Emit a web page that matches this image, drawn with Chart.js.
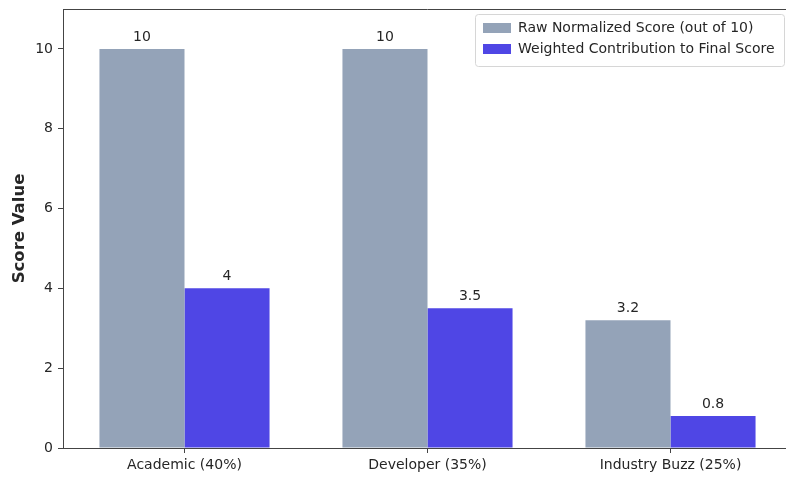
<!DOCTYPE html>
<html>
<head>
<meta charset="utf-8">
<script src="https://cdn.jsdelivr.net/npm/chart.js@4.4.1/dist/chart.umd.min.js"></script>
<style>
  html, body { margin: 0; padding: 0; background: #fff; overflow: hidden; }
</style>
</head>
<body>
<canvas id="plot-area" width="800" height="477"></canvas>
<script>
const categories = ["Academic (40%)", "Developer (35%)", "Industry Buzz (25%)"];
const rawScores = [10, 10, 3.2];
const weightedScores = [4, 3.5, 0.8];
const yTicks = [0, 2, 4, 6, 8, 10];

const FONT = "'DejaVu Sans', sans-serif";
const INK = "#262626";

// spines on top + legend frame, legend moved to the upper right inside the axes
const framePlugin = {
  id: "frame",
  afterLayout(chart) {
    const lg = chart.legend;
    const area = chart.chartArea;
    lg.left = area.right - 316;
    lg.top = area.top + 5;
    lg.right = lg.left + lg.width;
    lg.bottom = lg.top + lg.height;
  },
  beforeDraw(chart) {
    const ctx = chart.ctx;
    const area = chart.chartArea;
    const x = area.right - 317, y = area.top + 5, w = 309, h = 52;
    ctx.save();
    ctx.fillStyle = "rgba(255,255,255,0.8)";
    ctx.strokeStyle = "#d6d6d6";
    ctx.lineWidth = 1;
    ctx.beginPath();
    ctx.roundRect(x + 0.5, y + 0.5, w, h, 3);
    ctx.fill();
    ctx.stroke();
    ctx.restore();
  },
  afterDraw(chart) {
    const ctx = chart.ctx;
    const area = chart.chartArea;
    ctx.save();
    ctx.strokeStyle = "#444";
    ctx.lineWidth = 1;
    ctx.beginPath();
    ctx.moveTo(area.left, area.top + 0.5);
    ctx.lineTo(area.right, area.top + 0.5);
    ctx.stroke();
    ctx.restore();
  },
};

// value labels above each bar
const barLabels = {
  id: "barLabels",
  afterDatasetsDraw(chart) {
    const ctx = chart.ctx;
    ctx.save();
    ctx.font = "14px " + FONT;
    ctx.fillStyle = INK;
    ctx.textAlign = "center";
    ctx.textBaseline = "bottom";
    chart.data.datasets.forEach((ds, i) => {
      chart.getDatasetMeta(i).data.forEach((bar, j) => {
        ctx.fillText(String(ds.data[j]), bar.x, bar.y - 5);
      });
    });
    ctx.restore();
  },
};

const config = {
  type: "bar",
  data: {
    labels: categories,
    datasets: [
      {
        label: "Raw Normalized Score (out of 10)",
        data: rawScores,
        backgroundColor: "#94a3b8",
        borderWidth: 0,
      },
      {
        label: "Weighted Contribution to Final Score",
        data: weightedScores,
        backgroundColor: "#4f46e5",
        borderWidth: 0,
      },
    ],
  },
  options: {
    responsive: false,
    animation: false,
    layout: { padding: { top: 9, right: 8, left: 0, bottom: 0 } },
    datasets: { bar: { categoryPercentage: 0.7, barPercentage: 1.0 } },
    scales: {
      x: {
        grid: { drawOnChartArea: false, drawTicks: true, tickLength: 5, tickColor: "#444", offset: false },
        border: { display: true, color: "#444" },
        ticks: { color: INK, font: { family: FONT, size: 14 }, padding: 4, maxRotation: 0 },
        afterFit(scale) { scale.height = 29; },
      },
      y: {
        min: 0,
        max: 11,
        afterBuildTicks(scale) { scale.ticks = yTicks.map((v) => ({ value: v })); },
        grid: { drawOnChartArea: false, drawTicks: true, tickLength: 5, tickColor: "#444" },
        border: { display: true, color: "#444" },
        ticks: { color: INK, font: { family: FONT, size: 14 }, padding: 5 },
        title: {
          display: true,
          text: "Score Value",
          color: INK,
          font: { family: FONT, size: 16.5, weight: "bold" },
          padding: { top: 10, bottom: 0 },
        },
        afterFit(scale) {
          scale.width = 63;
          scale.paddingTop = 0;
          scale.paddingBottom = 0;
        },
      },
    },
    plugins: {
      legend: {
        position: "chartArea",
        align: "start",
        labels: {
          boxWidth: 28,
          boxHeight: 10,
          padding: 7,
          color: INK,
          font: { family: FONT, size: 14 },
        },
      },
      tooltip: { enabled: false },
    },
  },
  plugins: [framePlugin, barLabels],
};

new Chart(document.getElementById("plot-area").getContext("2d"), config);
</script>
</body>
</html>
